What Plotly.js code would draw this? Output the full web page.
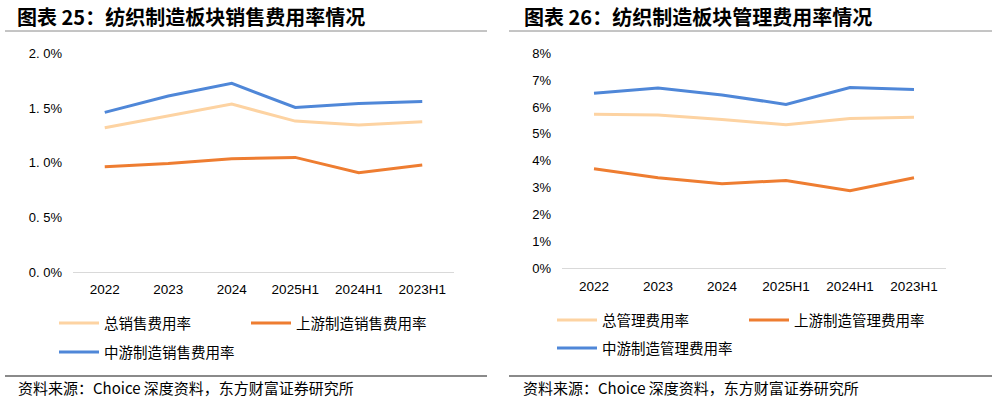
<!DOCTYPE html>
<html><head><meta charset="utf-8">
<script src="https://cdn.plot.ly/plotly-3.0.1.min.js"></script>
<style>body{margin:0;background:#fff}</style></head>
<body><div id="c" style="width:997px;height:399px"></div>
<script>
const categories = ['2022','2023','2024','2025H1','2024H1','2023H1'];
const salesTotal = [1.32,1.425,1.535,1.38,1.345,1.375];
const salesUp    = [0.963,0.993,1.036,1.048,0.908,0.978];
const salesMid   = [1.46,1.61,1.725,1.505,1.54,1.56];
const adminTotal = [5.73,5.70,5.54,5.34,5.57,5.62];
const adminUp    = [3.70,3.37,3.15,3.27,2.89,3.37];
const adminMid   = [6.51,6.71,6.45,6.10,6.73,6.65];
const salesTickVals = [0,0.5,1,1.5,2];
const salesTickText = ['0. 0%','0. 5%','1. 0%','1. 5%','2. 0%'];
const adminTickVals = [0,1,2,3,4,5,6,7,8];
const adminTickText = ['0%','1%','2%','3%','4%','5%','6%','7%','8%'];
const salesNames = ['总销售费用率','上游制造销售费用率','中游制造销售费用率'];
const adminNames = ['总管理费用率','上游制造管理费用率','中游制造管理费用率'];
const titles = ['图表 25：纺织制造板块销售费用率情况','图表 26：纺织制造板块管理费用率情况'];
const sourceText = '资料来源：Choice 深度资料，东方财富证券研究所';

const C_TOTAL='#FDD3A2', C_UP='#EE7D31', C_MID='#4F87D8';
const W=997,H=399;
const px=x=>x/W, py=y=>1-y/H;
const CJK='"Noto Sans CJK SC", "Liberation Sans", sans-serif';
const LAT='"Liberation Sans", Arial, sans-serif';

function tr(y,name,color,xa,ya,lg){
  return {x:categories,y:y,name:name,type:'scatter',mode:'lines',
    line:{color:color,width:3},xaxis:xa,yaxis:ya,legend:lg,hoverinfo:'skip'};
}
const data=[
  tr(salesTotal,salesNames[0],C_TOTAL,'x','y','legend'),
  tr(salesUp,salesNames[1],C_UP,'x','y','legend'),
  tr(salesMid,salesNames[2],C_MID,'x','y','legend2'),
  tr(adminTotal,adminNames[0],C_TOTAL,'x2','y2','legend3'),
  tr(adminUp,adminNames[1],C_UP,'x2','y2','legend3'),
  tr(adminMid,adminNames[2],C_MID,'x2','y2','legend4'),
];
const xax=(d,a)=>({domain:d,anchor:a,type:'category',range:[-0.5,5.5],showline:true,linecolor:'#D9D9D9',linewidth:1,
  ticks:'',showgrid:false,zeroline:false,tickfont:{family:LAT,size:13.5,color:'#000'},ticklabelstandoff:5,fixedrange:true});
const yax=(d,a,r,tv,tt)=>({domain:d,anchor:a,range:r,tickmode:'array',tickvals:tv,ticktext:tt,showgrid:false,zeroline:false,
  showline:false,ticks:'',tickfont:{family:LAT,size:13,color:'#000'},ticklabelstandoff:10,fixedrange:true});
const lgd=(x,y)=>({orientation:'h',x:px(x),y:py(y),xanchor:'left',yanchor:'middle',traceorder:'normal',
  font:{family:CJK,size:14.5,color:'#000'},itemwidth:40,entrywidth:137,entrywidthmode:'pixels',bgcolor:'rgba(0,0,0,0)',borderwidth:0});
const L1=lgd(54,323), L2=lgd(54,352), L3=lgd(552,320), L4=lgd(552,348);
const line=(x0,x1,y,c,w)=>({type:'line',xref:'paper',yref:'paper',x0:px(x0),x1:px(x1),y0:py(y),y1:py(y),line:{color:c,width:w}});
const layout={
  width:W,height:H,margin:{l:0,r:0,t:0,b:0},paper_bgcolor:'#fff',plot_bgcolor:'#fff',showlegend:true,
  xaxis:xax([px(73),px(454)],'y'),
  yaxis:yax([py(272),py(53.3)],'x',[0,2],salesTickVals,salesTickText),
  xaxis2:xax([px(562),px(946)],'y2'),
  yaxis2:yax([py(268.3),py(53.3)],'x2',[0,8],adminTickVals,adminTickText),
  legend:L1,legend2:L2,legend3:L3,legend4:L4,
  shapes:[line(5,487,31,'#8A8A8A',1),line(509,992,31,'#8A8A8A',1),line(5,487,376,'#8A8A8A',2),line(509,992,376,'#8A8A8A',2)],
  annotations:[
    {text:'<b>'+titles[0]+'</b>',xref:'paper',yref:'paper',x:px(15),y:py(16),xanchor:'left',yanchor:'middle',showarrow:false,font:{family:CJK,size:20,color:'#000'}},
    {text:'<b>'+titles[1]+'</b>',xref:'paper',yref:'paper',x:px(522),y:py(16),xanchor:'left',yanchor:'middle',showarrow:false,font:{family:CJK,size:20,color:'#000'}},
    {text:sourceText,xref:'paper',yref:'paper',x:px(16),y:py(387),xanchor:'left',yanchor:'middle',showarrow:false,font:{family:CJK,size:15,color:'#000'}},
    {text:sourceText,xref:'paper',yref:'paper',x:px(521),y:py(387),xanchor:'left',yanchor:'middle',showarrow:false,font:{family:CJK,size:15,color:'#000'}}
  ]
};
Plotly.newPlot('c',data,layout,{displayModeBar:false,staticPlot:true});
</script></body></html>
